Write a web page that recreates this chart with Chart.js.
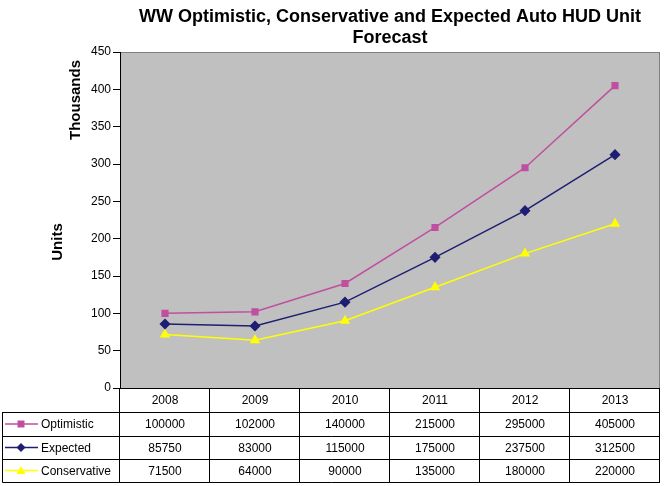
<!DOCTYPE html>
<html>
<head>
<meta charset="utf-8">
<script src="https://cdn.jsdelivr.net/npm/chart.js@4.4.1/dist/chart.umd.min.js"></script>
<style>
  html, body { margin: 0; padding: 0; background: #fff; }
  canvas { display: block; }
</style>
</head>
<body>
<canvas id="myChart" width="669" height="486"></canvas>
<script>
// chart data (raw units, plotted in thousands)
var years = ['2008', '2009', '2010', '2011', '2012', '2013'];
var optimistic = [100000, 102000, 140000, 215000, 295000, 405000];
var expected = [85750, 83000, 115000, 175000, 237500, 312500];
var conservative = [71500, 64000, 90000, 135000, 180000, 220000];
var seriesNames = ['Optimistic', 'Expected', 'Conservative'];
var yTicks = [0, 50, 100, 150, 200, 250, 300, 350, 400, 450];

var titleLines = ['WW Optimistic, Conservative and Expected Auto HUD Unit', 'Forecast'];

var colPink = '#C04FA0';
var colNavy = '#1E1E72';
var colYellow = '#FFFF00';

var toK = function (arr) {
    return arr.map(function (v) { return v / 1000; });
};

var drawMarker = function (ctx, style, x, y, color) {
    ctx.save();
    ctx.fillStyle = color;
    ctx.strokeStyle = color;
    ctx.beginPath();
    if (style === 'rect') {
        ctx.rect(x - 3.5, y - 3.5, 7, 7);
    } else if (style === 'rectRot') {
        ctx.moveTo(x, y - 4.5); ctx.lineTo(x + 4.5, y); ctx.lineTo(x, y + 4.5); ctx.lineTo(x - 4.5, y);
        ctx.closePath();
    } else {
        ctx.moveTo(x, y - 4.5); ctx.lineTo(x + 4.5, y + 3.5); ctx.lineTo(x - 4.5, y + 3.5);
        ctx.closePath();
    }
    ctx.fill();
    ctx.restore();
};

var plotFrame = {
    id: 'plotFrame',
    beforeDraw: function (chart) {
        var a = chart.chartArea, ctx = chart.ctx;
        ctx.save();
        ctx.fillStyle = '#fff';
        ctx.fillRect(0, 0, chart.width, chart.height);
        ctx.fillStyle = '#C0C0C0';
        ctx.fillRect(a.left, a.top, a.right - a.left, a.bottom - a.top);
        ctx.strokeStyle = '#808080';
        ctx.lineWidth = 1;
        ctx.strokeRect(a.left + 0.5, a.top + 0.5, a.right - a.left - 1, a.bottom - a.top);
        ctx.restore();
    },
    afterDraw: function (chart) {
        var a = chart.chartArea, ctx = chart.ctx;
        ctx.save();
        // title
        ctx.fillStyle = '#000';
        ctx.font = 'bold 18px "Liberation Sans", Arial, sans-serif';
        ctx.textAlign = 'center';
        ctx.textBaseline = 'alphabetic';
        var cx = (a.left + a.right) / 2;
        ctx.fillText(titleLines[0], cx, 22);
        ctx.fillText(titleLines[1], cx, 43);

        // axis titles
        ctx.font = 'bold 15px "Liberation Sans", Arial, sans-serif';
        ctx.save();
        ctx.translate(80, 100);
        ctx.rotate(-Math.PI / 2);
        ctx.fillText('Thousands', 0, 0);
        ctx.restore();
        ctx.save();
        ctx.translate(62, 242);
        ctx.rotate(-Math.PI / 2);
        ctx.fillText('Units', 0, 0);
        ctx.restore();

        // data table
        var rows = [a.bottom, 412, 436, 459, 482];
        var colW = (a.right - a.left) / years.length;
        var tableLeft = 2.5;
        ctx.strokeStyle = '#000';
        ctx.lineWidth = 1;
        ctx.beginPath();
        // horizontal lines
        ctx.moveTo(a.left, rows[0] + 0.5); ctx.lineTo(a.right, rows[0] + 0.5);
        for (var r = 1; r < rows.length; r++) {
            ctx.moveTo(tableLeft, rows[r] + 0.5); ctx.lineTo(a.right, rows[r] + 0.5);
        }
        // vertical lines
        ctx.moveTo(tableLeft, rows[1]); ctx.lineTo(tableLeft, rows[4] + 0.5);
        for (var c = 0; c <= years.length; c++) {
            var x = Math.round(a.left + c * colW) - 0.5;
            ctx.moveTo(x, rows[0]); ctx.lineTo(x, rows[4] + 0.5);
        }
        ctx.stroke();

        ctx.font = '12px "Liberation Sans", Arial, sans-serif';
        ctx.textBaseline = 'middle';
        ctx.textAlign = 'center';
        var xs = chart.scales.x;
        years.forEach(function (y, i) {
            ctx.fillText(y, xs.getPixelForValue(i), (rows[0] + rows[1]) / 2 + 1);
        });
        var tableData = [optimistic, expected, conservative];
        tableData.forEach(function (arr, s) {
            var ym = (rows[s + 1] + rows[s + 2]) / 2 + 1;
            arr.forEach(function (v, i) {
                ctx.fillText(String(v), xs.getPixelForValue(i), ym);
            });
        });
        // legend keys
        var ds = chart.data.datasets;
        ds.forEach(function (d, s) {
            var ym = (rows[s + 1] + rows[s + 2]) / 2;
            ctx.strokeStyle = d.borderColor;
            ctx.lineWidth = 1.5;
            ctx.beginPath();
            ctx.moveTo(5, ym); ctx.lineTo(38, ym);
            ctx.stroke();
            drawMarker(ctx, d.pointStyle, 21, ym, d.borderColor);
            ctx.fillStyle = '#000';
            ctx.textAlign = 'left';
            ctx.fillText(seriesNames[s], 41, ym + 1);
        });
        ctx.restore();
    }
};

var config = {
    type: 'line',
    data: {
        labels: years,
        datasets: [{
            label: seriesNames[0],
            data: toK(optimistic),
            borderColor: colPink,
            backgroundColor: colPink,
            pointStyle: 'rect',
            pointRadius: 4,
            borderWidth: 1.5
        }, {
            label: seriesNames[1],
            data: toK(expected),
            borderColor: colNavy,
            backgroundColor: colNavy,
            pointStyle: 'rectRot',
            pointRadius: 4.5,
            borderWidth: 1.5
        }, {
            label: seriesNames[2],
            data: toK(conservative),
            borderColor: colYellow,
            backgroundColor: colYellow,
            pointStyle: 'triangle',
            pointRadius: 4.5,
            borderWidth: 1.5
        }]
    },
    options: {
        responsive: false,
        animation: false,
        layout: { padding: { top: 52, right: 9, bottom: 98, left: 0 } },
        plugins: {
            legend: { display: false },
            title: { display: false },
            tooltip: { enabled: false }
        },
        scales: {
            x: {
                display: false,
                offset: true
            },
            y: {
                min: 0,
                max: 450,
                afterFit: function (scale) { scale.width = 120; },
                afterBuildTicks: function (scale) {
                    scale.ticks = yTicks.map(function (v) { return { value: v }; });
                },
                border: { display: true, color: '#000', width: 1 },
                grid: { drawOnChartArea: false, drawTicks: true, tickLength: 7, color: '#000' },
                ticks: {
                    color: '#000',
                    padding: 2,
                    font: { family: '"Liberation Sans", Arial, sans-serif', size: 12 }
                }
            }
        }
    },
    plugins: [plotFrame]
};

var ctx = document.getElementById('myChart').getContext('2d');
var myChart = new Chart(ctx, config);
</script>
</body>
</html>
